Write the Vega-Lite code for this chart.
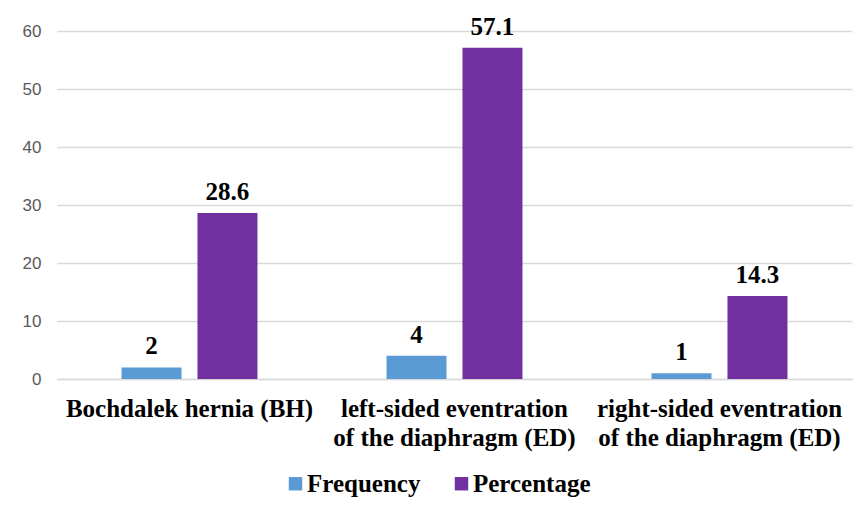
{
  "$schema": "https://vega.github.io/schema/vega-lite/v6.json",
  "width": 795,
  "height": 348,
  "autosize": {"type": "none"},
  "padding": {"left": 57, "top": 31, "right": 12, "bottom": 133},
  "background": "white",
  "config": {
    "view": {"stroke": null},
    "font": "Liberation Serif"
  },
  "data": {
    "values": [
      {"category": "Bochdalek hernia (BH)", "series": "Frequency", "value": 2},
      {"category": "Bochdalek hernia (BH)", "series": "Percentage", "value": 28.6},
      {"category": "left-sided eventration|of the diaphragm (ED)", "series": "Frequency", "value": 4},
      {"category": "left-sided eventration|of the diaphragm (ED)", "series": "Percentage", "value": 57.1},
      {"category": "right-sided eventration|of the diaphragm (ED)", "series": "Frequency", "value": 1},
      {"category": "right-sided eventration|of the diaphragm (ED)", "series": "Percentage", "value": 14.3}
    ]
  },
  "encoding": {
    "x": {
      "field": "category",
      "type": "nominal",
      "sort": null,
      "scale": {"paddingInner": 0.487, "paddingOuter": 0.2435},
      "axis": {
        "title": null,
        "labelAngle": 0,
        "labelExpr": "split(datum.label, '|')",
        "labelFont": "Liberation Serif",
        "labelFontWeight": "bold",
        "labelFontSize": 25,
        "labelColor": "#000000",
        "labelLineHeight": 29,
        "labelPadding": 17,
        "labelBaseline": "top",
        "labelLimit": 0,
        "labelOverlap": false,
        "ticks": false,
        "domainColor": "#d9d9d9",
        "domainWidth": 1.3
      }
    },
    "xOffset": {
      "field": "series",
      "type": "nominal",
      "scale": {"paddingInner": 0.21, "paddingOuter": 0}
    },
    "y": {
      "field": "value",
      "type": "quantitative",
      "scale": {"domain": [0, 60], "nice": false},
      "axis": {
        "title": null,
        "values": [0, 10, 20, 30, 40, 50, 60],
        "labelFont": "Liberation Sans",
        "labelFontSize": 17,
        "labelColor": "#595959",
        "labelPadding": 16,
        "ticks": false,
        "domain": false,
        "gridColor": "#d9d9d9",
        "gridWidth": 1.3
      }
    }
  },
  "layer": [
    {
      "mark": {"type": "bar"},
      "encoding": {
        "color": {
          "field": "series",
          "type": "nominal",
          "scale": {"domain": ["Frequency", "Percentage"], "range": ["#5b9bd5", "#7030a0"]},
          "legend": {
            "title": null,
            "orient": "none",
            "direction": "horizontal",
            "legendX": 226,
            "legendY": 440,
            "symbolType": "square",
            "symbolSize": 180,
            "symbolStrokeWidth": 0,
            "labelFont": "Liberation Serif",
            "labelFontWeight": "bold",
            "labelFontSize": 25,
            "labelColor": "#000000",
            "labelOffset": -1,
            "columnPadding": 28
          }
        }
      }
    },
    {
      "mark": {"type": "text", "baseline": "alphabetic", "dy": -13, "font": "Liberation Serif", "fontWeight": "bold", "fontSize": 25, "color": "#000000"},
      "encoding": {
        "text": {"field": "value", "type": "quantitative"}
      }
    }
  ]
}
